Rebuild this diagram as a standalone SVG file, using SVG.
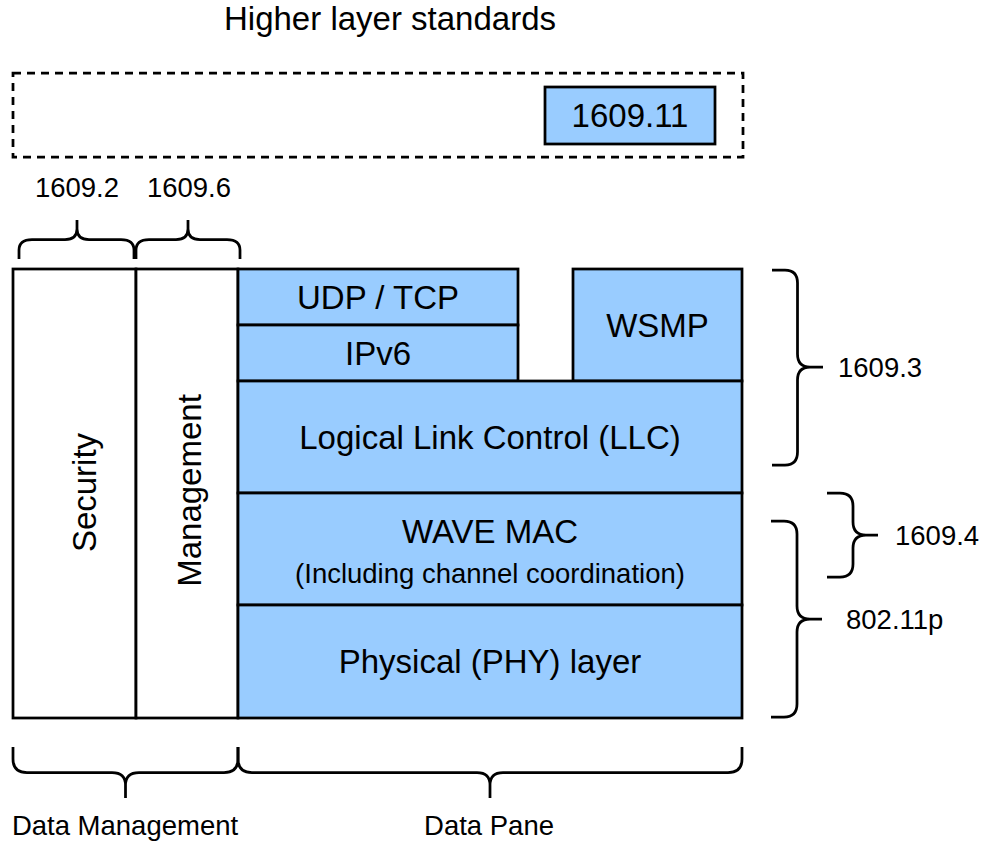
<svg xmlns="http://www.w3.org/2000/svg" width="983" height="843" viewBox="0 0 983 843">
  <style>
    .box { fill: #99CCFF; stroke: #000; stroke-width: 2.75; }
    .plain { fill: #FFFFFF; stroke: #000; stroke-width: 2.75; }
    .dash { fill: none; stroke: #000; stroke-width: 2.75; stroke-dasharray: 8 6; }
    .brace { fill: none; stroke: #000; stroke-width: 2.75; stroke-linecap: butt; stroke-linejoin: round; }
    text { font-family: "Liberation Sans", Arial, Helvetica, sans-serif; fill: #000; }
    .big { font-size: 33px; text-anchor: middle; }
    .small { font-size: 27.5px; }
    .mid { text-anchor: middle; }
  </style>

  <!-- Title of the upper band -->
  <g id="title">
    <text class="big" x="390" y="30">Higher layer standards</text>
  </g>

  <!-- Higher layer band (dashed) with 1609.11 -->
  <g id="higher-layer">
    <rect class="dash" x="13" y="73" width="730" height="84"/>
  </g>
  <g id="std-1609-11">
    <rect class="box" x="545" y="87" width="170" height="57"/>
    <text class="big" x="630" y="127">1609.11</text>
  </g>

  <!-- Left column labels -->
  <g id="label-1609-2"><text class="small mid" x="77" y="197">1609.2</text></g>
  <g id="label-1609-6"><text class="small mid" x="189" y="197">1609.6</text></g>

  <!-- Vertical planes -->
  <g id="security">
    <rect class="plain" x="13" y="269" width="123" height="449"/>
    <text class="big" transform="translate(96,492.5) rotate(-90)">Security</text>
  </g>
  <g id="management">
    <rect class="plain" x="136" y="269" width="102" height="449"/>
    <text class="big" transform="translate(201,490.5) rotate(-90)">Management</text>
  </g>

  <!-- Protocol stack -->
  <g id="udp-tcp">
    <rect class="box" x="238" y="269" width="280" height="56"/>
    <text class="big" x="378" y="309">UDP / TCP</text>
  </g>
  <g id="ipv6">
    <rect class="box" x="238" y="325" width="280" height="56"/>
    <text class="big" x="378" y="365">IPv6</text>
  </g>
  <g id="wsmp">
    <rect class="box" x="573" y="269" width="169" height="112"/>
    <text class="big" x="657.5" y="337">WSMP</text>
  </g>
  <g id="llc">
    <rect class="box" x="238" y="381" width="504" height="112"/>
    <text class="big" x="490" y="449">Logical Link Control (LLC)</text>
  </g>
  <g id="wave-mac">
    <rect class="box" x="238" y="493" width="504" height="112"/>
    <text class="big" x="490" y="543">WAVE MAC</text>
    <text class="small mid" x="490" y="583">(Including channel coordination)</text>
  </g>
  <g id="phy">
    <rect class="box" x="238" y="605" width="504" height="113"/>
    <text class="big" x="490" y="673">Physical (PHY) layer</text>
  </g>

  <!-- Curly braces marking the scope of each standard -->
  <g id="braces">
    <!-- top: 1609.2 and 1609.6 (tip up) -->
    <path class="brace" d="M19 259 V250 Q19 239.5 32 239.5 H65 Q77 239.5 77 229 V220 M77 229 Q77 239.5 89 239.5 H121 Q134 239.5 134 250 V259"/>
    <path class="brace" d="M136 259 V250 Q136 239.5 149 239.5 H176 Q188 239.5 188 229 V220 M188 229 Q188 239.5 200 239.5 H227 Q240 239.5 240 250 V259"/>
    <!-- right: 1609.3 (tip right) -->
    <path class="brace" d="M772 270 H785 Q797.5 270 797.5 283 V354 Q797.5 367 810 367 H823 M810 367 Q797.5 367 797.5 380 V452 Q797.5 465 785 465 H772"/>
    <!-- right: 1609.4 -->
    <path class="brace" d="M827 493 H840 Q853 493 853 506 V522 Q853 535 866 535 H878 M866 535 Q853 535 853 548 V564 Q853 577 840 577 H827"/>
    <!-- right: 802.11p -->
    <path class="brace" d="M771 521 H784 Q797 521 797 534 V606 Q797 619 810 619 H822 M810 619 Q797 619 797 632 V704 Q797 717 784 717 H771"/>
    <!-- bottom: data management and data pane (tip down) -->
    <path class="brace" d="M13 747 V759 Q13 772.5 27 772.5 H112 Q125.5 772.5 125.5 785 V798 M125.5 785 Q125.5 772.5 139 772.5 H224 Q238 772.5 238 759 V747"/>
    <path class="brace" d="M238 747 V759 Q238 772.5 252 772.5 H477 Q490 772.5 490 785 V798 M490 785 Q490 772.5 503 772.5 H728 Q742 772.5 742 759 V747"/>
  </g>

  <!-- Brace labels -->
  <g id="label-1609-3"><text class="small" x="838" y="377">1609.3</text></g>
  <g id="label-1609-4"><text class="small" x="895" y="545">1609.4</text></g>
  <g id="label-802-11p"><text class="small" x="846" y="629">802.11p</text></g>
  <g id="label-data-management"><text class="small mid" x="125" y="835">Data Management</text></g>
  <g id="label-data-pane"><text class="small mid" x="489" y="835">Data Pane</text></g>
</svg>
